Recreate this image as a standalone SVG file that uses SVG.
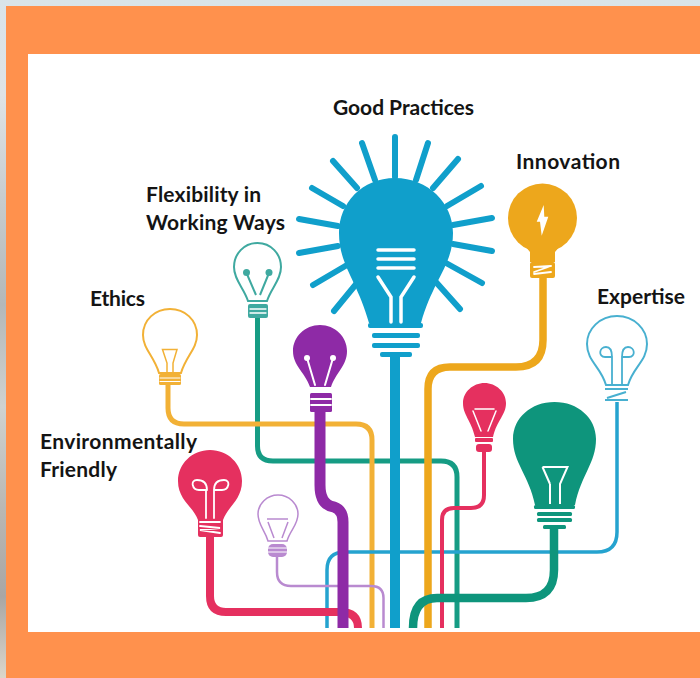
<svg xmlns="http://www.w3.org/2000/svg" width="700" height="678" viewBox="0 0 700 678">
<style>
.lbl{font-family:"Lato","Open Sans","Liberation Sans",sans-serif;font-weight:700;font-size:21px;fill:#141414}
.wire{fill:none;stroke-linecap:butt}
.ray{stroke:#109fcb;stroke-width:6;stroke-linecap:round;fill:none}
.wl{fill:none;stroke:#fff;stroke-linecap:round}
</style>
<defs>
<linearGradient id="edge" x1="0" y1="0" x2="0" y2="1">
<stop offset="0" stop-color="#d9e4ea"/><stop offset=".14" stop-color="#dfe3e6"/><stop offset=".3" stop-color="#c6cbcd"/><stop offset=".45" stop-color="#b4b8b8"/><stop offset=".6" stop-color="#cfd2d0"/><stop offset=".75" stop-color="#b9b7b3"/><stop offset=".88" stop-color="#a9a6a4"/><stop offset="1" stop-color="#dcd6ca"/>
</linearGradient>
</defs>
<rect id="backdrop-edge" width="700" height="678" fill="url(#edge)"/>
<rect id="frame" x="6" y="6" width="694" height="672" fill="#ff914d"/>
<rect id="panel" x="28" y="54" width="672" height="578" fill="#fff"/>

<g id="connectors" class="wire">
<path d="M257.500 318V446Q257.500 461 273 461H441Q457 461 457 477V628" stroke="#169c84" stroke-width="5" fill="none"/>
<path d="M168 385V408Q168 424 184 424H356Q372 424 372 440V628" stroke="#f2b136" stroke-width="5" fill="none"/>
<path d="M327 628V570Q327 552 345 552H597Q617 552 617 532V402" stroke="#25a3cf" stroke-width="3.500" fill="none"/>
<path d="M277 557V572Q277 586 291 586H371Q383.500 586 383.500 598V628" stroke="#b98ad0" stroke-width="2.500" fill="none"/>
<path d="M210 537V596Q210 612 226 612H340Q358 612 358 628" stroke="#e5305f" stroke-width="8" fill="none"/>
<path d="M320 412V485Q320 505 334 507Q343 510 343 522V628" stroke="#8e2aa6" stroke-width="11" fill="none"/>
<path d="M395 357V628" stroke="#109fcb" stroke-width="10" fill="none"/>
<path d="M543 278V340Q543 367 516 367H450Q428 367 428 389V628" stroke="#eda71c" stroke-width="7.500" fill="none"/>
<path d="M484 452V495Q484 508 471 508H454Q442 508 442 520V628" stroke="#e5305f" stroke-width="4" fill="none"/>
<path d="M554 529V570Q554 598 526 598H437Q413 598 413 628" stroke="#0e957c" stroke-width="8.500" fill="none"/>
</g>

<g id="bulb-good-practices">
<g class="ray">
<path d="M395 137V177M362 143L375 180M333 161L357 188M312 188L343 206M299 219L338 226M299 253L338 246M313 285L347 265M334 311L357 283M428 143L416 180M458 159L433 188M481 186L447 206M492 218L453 225M492 251L453 244M482 283L446 263M460 309L435 281"/>
</g>
<path d="M395 178C428 178 453 203 453 233C453 265 433 280 421 323L369 323C357 280 339 265 339 233C339 203 362 178 395 178Z" fill="#109fcb"/>
<rect x="368" y="323" width="55" height="5" rx="2" fill="#109fcb"/>
<rect x="372" y="333" width="48" height="5" rx="2" fill="#109fcb"/>
<rect x="372" y="343" width="48" height="5" rx="2" fill="#109fcb"/>
<rect x="380" y="352" width="32" height="5" rx="2" fill="#109fcb"/>
<path class="wl" stroke-width="3.500" d="M378 250H414M378 259H414M378 268H414"/>
<path class="wl" stroke-width="3.500" d="M378 277L391 297V322M414 277L401 297V322"/>
<text class="lbl" x="333" y="115" textLength="141">Good Practices</text>
</g>

<g id="bulb-innovation">
<circle cx="542.500" cy="218" r="34.500" fill="#eda71c"/>
<path d="M520 240H565L555 252V262H530V252Z" fill="#eda71c"/>
<rect x="530" y="262" width="25" height="16" rx="2" fill="#eda71c"/>
<path class="wl" stroke-width="1.800" d="M534 272L551 266M534 267L551 266M534 274L551 272"/>
<path d="M543.700 205L536.700 221.700H540L541.700 235.700L548.300 216.700H544.300Z" fill="#fff"/>
<text class="lbl" x="516" y="169" textLength="104">Innovation</text>
</g>

<g id="bulb-flexibility">
<path d="M257.500 243C271 243 281 254 281 267C281 280 271 288 267 301H248C244 288 234 280 234 267C234 254 244 243 257.500 243Z" fill="#fff" stroke="#3fa9a0" stroke-width="2"/>
<rect x="248" y="304" width="20" height="14" rx="2" fill="#3fa9a0"/>
<path class="wl" stroke-width="1.300" d="M250 309H266M250 313H266"/>
<path d="M246.500 273L256 295M269 273L260 295" fill="none" stroke="#3fa9a0" stroke-width="2"/>
<circle cx="246.500" cy="272.500" r="3.500" fill="#3fa9a0"/>
<circle cx="269" cy="272.500" r="3.500" fill="#3fa9a0"/>
<text class="lbl" x="146" y="202" textLength="115">Flexibility in</text>
<text class="lbl" x="146" y="230" textLength="139">Working Ways</text>
</g>

<g id="bulb-ethics">
<path d="M170 309C185 309 197 320 197 335C197 349 186 356 181 373H159C154 356 143 349 143 335C143 320 155 309 170 309Z" fill="#fff" stroke="#f2b136" stroke-width="2"/>
<path d="M162.500 349.500H177L173 363V373H167V363Z" fill="none" stroke="#f2b136" stroke-width="1.500"/>
<rect x="159" y="374" width="22" height="11" rx="1.500" fill="#f2b136"/>
<path class="wl" stroke-width="1" d="M160 378H180M160 381.500H180"/>
<text class="lbl" x="90" y="306" textLength="55">Ethics</text>
</g>

<g id="bulb-purple">
<path d="M320 325C335 325 347 337 347 351C347 366 336 372 331 387H310C305 372 293 366 293 351C293 337 305 325 320 325Z" fill="#8e2aa6"/>
<rect x="310" y="393" width="22" height="19" rx="1.500" fill="#8e2aa6"/>
<path class="wl" stroke-width="1.800" d="M311 399H331M311 405H331"/>
<path class="wl" stroke-width="2" d="M307 358L315 385M333 358L325 385"/>
<circle cx="307" cy="358" r="3" fill="#fff"/>
<circle cx="333" cy="358" r="3" fill="#fff"/>
</g>

<g id="bulb-environmentally-friendly">
<path d="M210 450C228 450 242 464 242 481C242 500 228 506 223 520H198C193 506 178 500 178 481C178 464 192 450 210 450Z" fill="#e5305f"/>
<rect x="198" y="518" width="25" height="19" rx="2" fill="#e5305f"/>
<path class="wl" stroke-width="1.800" d="M200 522L220 522M200 526L220 528L200 530L220 533"/>
<path class="wl" stroke-width="1.800" d="M206 518V490H199C192 490 190 480 197 480C204 480 207 484 207 490M214 518V490H222C229 490 231 480 224 480C217 480 214 484 214 490"/>
<text class="lbl" x="40" y="449" textLength="157">Environmentally</text>
<text class="lbl" x="40" y="477" textLength="77">Friendly</text>
</g>

<g id="bulb-lilac">
<path d="M278 495C289 495 298 504 298 514C298 525 290 530 287 541H268C265 530 258 525 258 514C258 504 267 495 278 495Z" fill="#fff" stroke="#b98ad0" stroke-width="1.500"/>
<path d="M267 519H288M268 522L274 538M288 522L282 538" fill="none" stroke="#b98ad0" stroke-width="1.500"/>
<rect x="268" y="544" width="19" height="13" rx="5" fill="#b98ad0"/>
<path class="wl" stroke-width="1" d="M268 548H287M268 552H287"/>
</g>

<g id="bulb-red-small">
<path d="M484.500 383C496 383 506 392 506 403C506 415 497 420 493 437H475C471 420 463 415 463 403C463 392 473 383 484.500 383Z" fill="#e5305f"/>
<path class="wl" stroke-width="1.500" d="M475 409H494M473 411L481 431M496 411L488 431"/>
<rect x="475" y="438" width="18" height="4" rx="1" fill="#e5305f"/>
<rect x="476" y="444" width="16" height="8" rx="3" fill="#e5305f"/>
</g>

<g id="bulb-green">
<path d="M554.500 402C578 402 596 418 596 439C596 463 581 475 575 505H535C529 475 513 463 513 439C513 418 531 402 554.500 402Z" fill="#0e957c"/>
<rect x="534" y="505" width="41" height="4" rx="1.500" fill="#0e957c"/>
<rect x="537" y="512" width="35" height="4" rx="1.500" fill="#0e957c"/>
<rect x="537" y="518" width="35" height="4" rx="1.500" fill="#0e957c"/>
<rect x="543" y="525" width="23" height="4" rx="1.500" fill="#0e957c"/>
<path d="M542.500 467H567.500L560 484V504M550 484L542.500 467M550 484V504" fill="none" stroke="#fff" stroke-width="2"/>
</g>

<g id="bulb-expertise">
<path d="M617 316C634 316 647 329 647 344C647 361 633 367 628 385H606C601 367 587 361 587 344C587 329 600 316 617 316Z" fill="#fff" stroke="#48b0d0" stroke-width="2"/>
<path d="M612 385V357H605C598 357 599 347 606 347C611 347 612 352 612 357M622 385V357H629C636 357 635 347 628 347C623 347 622 352 622 357" fill="none" stroke="#48b0d0" stroke-width="1.800"/>
<path d="M605 389H628M605 400H628M607 398L626 392" fill="none" stroke="#48b0d0" stroke-width="2"/>
<text class="lbl" x="597" y="304" textLength="88">Expertise</text>
</g>
</svg>
